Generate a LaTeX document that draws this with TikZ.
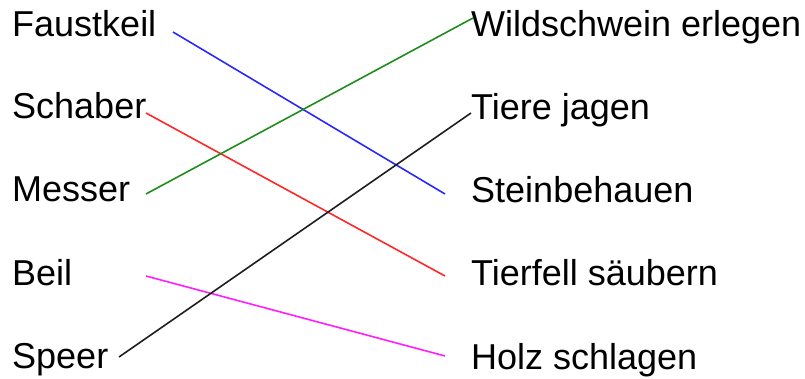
\documentclass[tikz,border=0pt]{standalone}
\usepackage{fontspec}
\setmainfont{Liberation Sans}
\begin{document}
\begin{tikzpicture}[x=1pt,y=-1pt,
  lbl/.style={anchor=base west,inner sep=0pt,font=\fontsize{36}{43}\selectfont},
  conn/.style={line width=1.6pt}]
\useasboundingbox (0,0) rectangle (805,379);
% left column
\node[lbl] (faustkeil) at (12,37) {Faustkeil};
\node[lbl] (schaber) at (12,119) {Schaber};
\node[lbl] (messer) at (12,202) {Messer};
\node[lbl] (beil) at (12,285) {Beil};
\node[lbl] (speer) at (12,368) {Speer};
% right column
\node[lbl] (wild) at (471,37) {Wildschwein erlegen};
\node[lbl] (tiere) at (471,120) {Tiere jagen};
\node[lbl] (stein) at (471,203) {Steinbehauen};
\node[lbl] (fell) at (471,285) {Tierfell säubern};
\node[lbl] (holz) at (471,369) {Holz schlagen};
% connector ends
\coordinate (faustkeil-e) at (173,32);
\coordinate (schaber-e) at (146,113);
\coordinate (messer-e) at (146,194);
\coordinate (beil-e) at (146,276);
\coordinate (speer-e) at (119,357);
\coordinate (wild-e) at (473,18);
\coordinate (tiere-e) at (471,113);
\coordinate (stein-e) at (445,194);
\coordinate (fell-e) at (445,276);
\coordinate (holz-e) at (445,356);
% connectors
\draw[conn,color={rgb,255:red,40;green,40;blue,255}] (faustkeil-e) -- (stein-e);
\draw[conn,color={rgb,255:red,255;green,40;blue,40}] (schaber-e) -- (fell-e);
\draw[conn,color={rgb,255:red,30;green,140;blue,30}] (messer-e) -- (wild-e);
\draw[conn,color={rgb,255:red,255;green,30;blue,255}] (beil-e) -- (holz-e);
\draw[conn,color={rgb,255:red,30;green,30;blue,30}] (speer-e) -- (tiere-e);
\end{tikzpicture}
\end{document}
